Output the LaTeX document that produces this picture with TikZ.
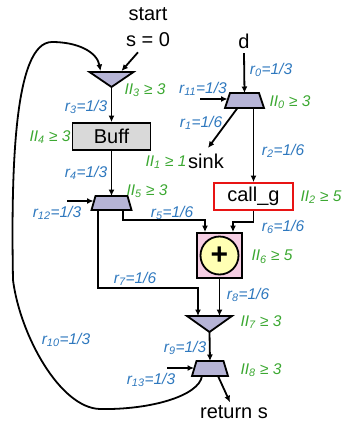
\documentclass[tikz,border=0pt]{standalone}
\usepackage{fontspec}
\setmainfont{Liberation Sans}
\usetikzlibrary{arrows.meta,calc}

\definecolor{rblue}{RGB}{46,120,190}
\definecolor{iigreen}{RGB}{60,168,50}
\definecolor{muxfill}{RGB}{182,180,214}
\definecolor{bufffill}{RGB}{217,217,217}
\definecolor{addfill}{RGB}{246,206,228}
\definecolor{plusfill}{RGB}{255,255,180}
\definecolor{callred}{RGB}{232,20,20}

% rate and initiation-interval labels
\newcommand{\rlab}[2]{r\textsubscript{#1}=#2}
\newcommand{\iilab}[2]{II\textsubscript{#1} ≥ #2}
% outline of a mux (trapezium) and of a merge (downward triangle) over a frame node
\newcommand{\muxoutline}[2]{\draw[unitfill] (#1.south west) -- ($(#1.north west)+(#2,0)$)
  -- ($(#1.north east)+(-#2,0)$) -- (#1.south east) -- cycle;}
\newcommand{\mergeoutline}[1]{\draw[unitfill] (#1.north west) -- (#1.north east)
  -- (#1.south) -- cycle;}

\tikzset{
  lbl/.style={font=\fontsize{15.5}{18}\selectfont\itshape, inner sep=0pt},
  rl/.style={lbl, text=rblue},
  il/.style={lbl, text=iigreen},
  txt/.style={font=\fontsize{20}{24}\selectfont, inner sep=0pt},
  wire/.style={line width=1.8pt},
  arr/.style={wire, -{Latex[length=6.5pt,width=6pt]}},
  frame/.style={inner sep=0pt, outer sep=0pt},
  unitfill/.style={draw, line width=1.8pt, fill=muxfill, line join=miter},
  blockbox/.style={draw, line width=1.8pt, txt},
}

\begin{document}
\begin{tikzpicture}[x=1pt, y=-1pt]
\useasboundingbox (0,0) rectangle (344,426);

% ---- terminals ----
\node[txt] (start) at (148,14.5) {start};
\node[txt] (s0) at (148,40) {s = 0};
\node[txt] (d) at (244,41.5) {d};
\node[txt] (sink) at (206,161.5) {sink};
\node[txt] (ret) at (234,412) {return s};

% ---- merge / mux / blocks ----
\node[frame, minimum width=44pt, minimum height=15pt] (m3) at (111.5,79.5) {};
\mergeoutline{m3}

\node[blockbox, fill=bufffill, minimum width=78pt, minimum height=27pt] (buff) at (111.5,136.5) {Buff};

\node[frame, minimum width=40pt, minimum height=14pt] (m5) at (111.5,203) {};
\muxoutline{m5}{4}

\node[frame, minimum width=39pt, minimum height=15pt] (m0) at (244.5,100.5) {};
\muxoutline{m0}{5}

\node[blockbox, draw=callred, fill=white, minimum width=79pt, minimum height=27pt] (callg) at (253.5,196.5) {call\_g};

\node[blockbox, fill=addfill, minimum width=45pt, minimum height=45pt] (b6) at (219.5,255.5) {};
\node[circle, draw, line width=1.8pt, fill=plusfill, minimum size=38pt, inner sep=0pt,
      font=\fontsize{30}{30}\selectfont\bfseries] (plus) at (b6.center) {+};

\node[frame, minimum width=45pt, minimum height=16pt] (t7) at (209.5,324) {};
\mergeoutline{t7}

\node[frame, minimum width=36pt, minimum height=15pt] (m8) at (210,368.5) {};
\muxoutline{m8}{4.5}

% ---- free input ends ----
\coordinate (in12) at (67,201);
\coordinate (in11) at (200,99);
\coordinate (in13) at (167,368);

% ---- connectors ----
\draw[arr] ($(s0.south)+(-10,5)$) -- ($(m3.north)+(10,-1)$);
\draw[arr] ($(m8.south)+(-8,0)$) .. controls (199,396) and (150,410) .. (100,409)
  .. controls (60,408) and (20,335) .. (13,280)
  .. controls (11,170) and (14,42) .. (52,42)
  .. controls (78,42) and (97,52) .. ($(m3.north)+(-11,-1)$);
\draw[arr] (m3.south) -- (buff.north);
\draw[arr] (buff.south) -- (m5.north);
\draw[arr] (in12) -- ($(in12 -| m5.west)+(2,0)$);

\draw[arr] ($(d.south)+(0,4)$) -- (m0.north);
\draw[arr] (in11) -- ($(in11 -| m0.west)+(2.5,0)$);
\draw[arr] ($(m0.south)+(-7,0)$) -- ($(sink.north)+(2,-6)$);
\draw[arr] (m0.south -| callg.north) -- (callg.north);

\draw[arr] ($(m5.south)+(11.5,0)$) |- ($(b6.north)+(-14.5,-12)$) -- ($(b6.north)+(-14.5,0)$);
\draw[arr] (callg.south) -- ++(0,11) -| ($(b6.north)+(13.5,0)$);

\draw[arr] ($(m5.south)+(-13.5,0)$) |- ($(t7.north)+(-11.5,-28)$) -- ($(t7.north)+(-11.5,0)$);
\draw[arr] (b6.south) -- (b6.south |- t7.north);

\draw[arr] (t7.south) -- (m8.north);
\draw[arr] (in13) -- ($(in13 -| m8.west)+(2,0)$);
\draw[arr] ($(m8.south)+(8,0)$) -- ($(ret.north)+(-4,-3)$);

% ---- labels ----
\node[il] (ii3) at (145,90) {\iilab{3}{3}};
\node[rl] (r3) at (86,107) {\rlab{3}{1/3}};
\node[il] (ii4) at (50,137) {\iilab{4}{3}};
\node[rl] (r4) at (86,173) {\rlab{4}{1/3}};
\node[il] (ii5) at (147,191) {\iilab{5}{3}};
\node[rl] (r12) at (57,213) {\rlab{12}{1/3}};
\node[rl] (r5) at (172,213) {\rlab{5}{1/6}};
\node[rl] (r7) at (135,279) {\rlab{7}{1/6}};
\node[rl] (r10) at (66,340) {\rlab{10}{1/3}};
\node[rl] (r13) at (151,380) {\rlab{13}{1/3}};
\node[rl] (r9) at (185,348) {\rlab{9}{1/3}};
\node[il] (ii7) at (261,322) {\iilab{7}{3}};
\node[il] (ii8) at (261,370) {\iilab{8}{3}};
\node[rl] (r8) at (248,295) {\rlab{8}{1/6}};
\node[il] (ii6) at (272,257) {\iilab{6}{5}};
\node[rl] (r6) at (283,227) {\rlab{6}{1/6}};
\node[il] (ii2) at (321,197) {\iilab{2}{5}};
\node[rl] (r2) at (283,151) {\rlab{2}{1/6}};
\node[il] (ii1) at (166,162) {\iilab{1}{1}};
\node[rl] (r1) at (201,123) {\rlab{1}{1/6}};
\node[il] (ii0) at (290,102) {\iilab{0}{3}};
\node[rl] (r11) at (203,89) {\rlab{11}{1/3}};
\node[rl] (r0) at (271,70) {\rlab{0}{1/3}};
\end{tikzpicture}
\end{document}
